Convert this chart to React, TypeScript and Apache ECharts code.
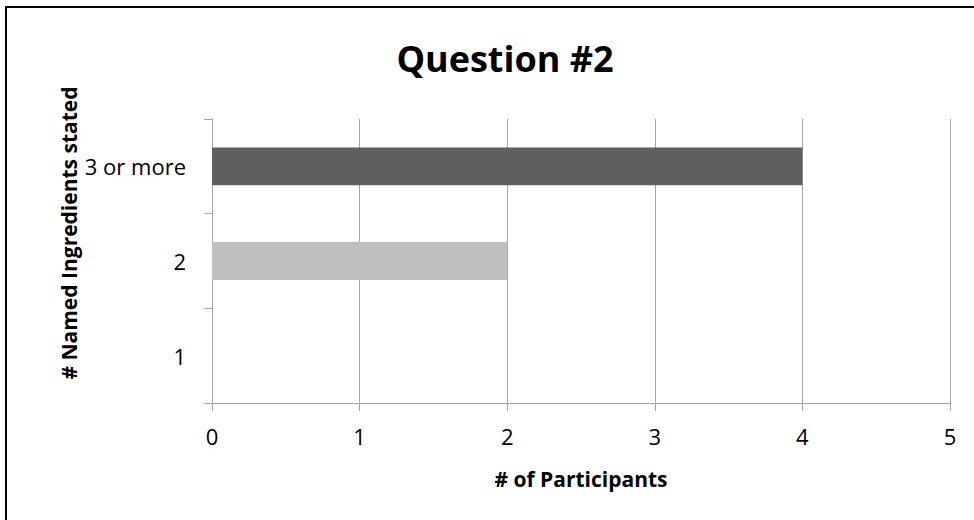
import React, { useEffect, useRef } from "react";
import * as echarts from "echarts";

// Category axis (bottom to top) and participant counts
const categories = ["1", "2", "3 or more"];
const participants = [0, 2, 4];
const barColors = ["#8c8c8c", "#bfbfbf", "#5f5f5f"];
const xTicks = [0, 1, 2, 3, 4, 5];

const titleText = "Question #2";
const xAxisTitle = "# of Participants";
const yAxisTitle = "# Named Ingredients stated";

const FONT = "'Open Sans', 'Noto Sans', sans-serif";
const AXIS_GRAY = "#a6a6a6";

export default function App() {
  const ref = useRef<HTMLDivElement>(null);

  useEffect(() => {
    document.body.style.margin = "0";
    if (!ref.current) return;
    const chart = echarts.init(ref.current, undefined, { renderer: "svg" });
    chart.setOption({
      animation: false,
      backgroundColor: "#ffffff",
      textStyle: { fontFamily: FONT },
      grid: { left: 212, right: 24, top: 119, bottom: 117, containLabel: false },
      xAxis: {
        type: "value",
        min: xTicks[0],
        max: xTicks[xTicks.length - 1],
        interval: 1,
        axisLine: { show: true, lineStyle: { color: AXIS_GRAY, width: 1 } },
        axisTick: { show: true, length: 8, lineStyle: { color: AXIS_GRAY } },
        splitLine: { show: true, lineStyle: { color: AXIS_GRAY, width: 1 } },
        axisLabel: { color: "#000", fontSize: 22, fontFamily: FONT, margin: 22 },
      },
      yAxis: {
        type: "category",
        data: categories,
        axisLine: { show: true, lineStyle: { color: AXIS_GRAY, width: 1 } },
        axisTick: { show: true, length: 8, alignWithLabel: false, lineStyle: { color: AXIS_GRAY } },
        splitLine: { show: false },
        axisLabel: { color: "#000", fontSize: 22, fontFamily: FONT, margin: 26 },
      },
      series: [
        {
          type: "bar",
          data: participants.map((v, i) => ({ value: v, itemStyle: { color: barColors[i] } })),
          barWidth: "40%",
        },
      ],
      graphic: [
        {
          type: "rect",
          shape: { x: 6, y: 7, width: 1000, height: 600 },
          style: { fill: "none", stroke: "#000", lineWidth: 2 },
          silent: true,
        },
        {
          type: "text",
          x: 505,
          y: 58,
          style: {
            text: titleText,
            font: `bold 36px ${FONT}`,
            fill: "#000",
            textAlign: "center",
            textVerticalAlign: "middle",
          },
        },
        {
          type: "text",
          x: 581,
          y: 479,
          style: {
            text: xAxisTitle,
            font: `bold 21px ${FONT}`,
            fill: "#000",
            textAlign: "center",
            textVerticalAlign: "middle",
          },
        },
        {
          type: "text",
          x: 69,
          y: 233,
          rotation: Math.PI / 2,
          style: {
            text: yAxisTitle,
            font: `bold 21px ${FONT}`,
            fill: "#000",
            textAlign: "center",
            textVerticalAlign: "middle",
          },
        },
      ],
    });
    return () => chart.dispose();
  }, []);

  return <div ref={ref} style={{ width: 974, height: 520 }} />;
}
